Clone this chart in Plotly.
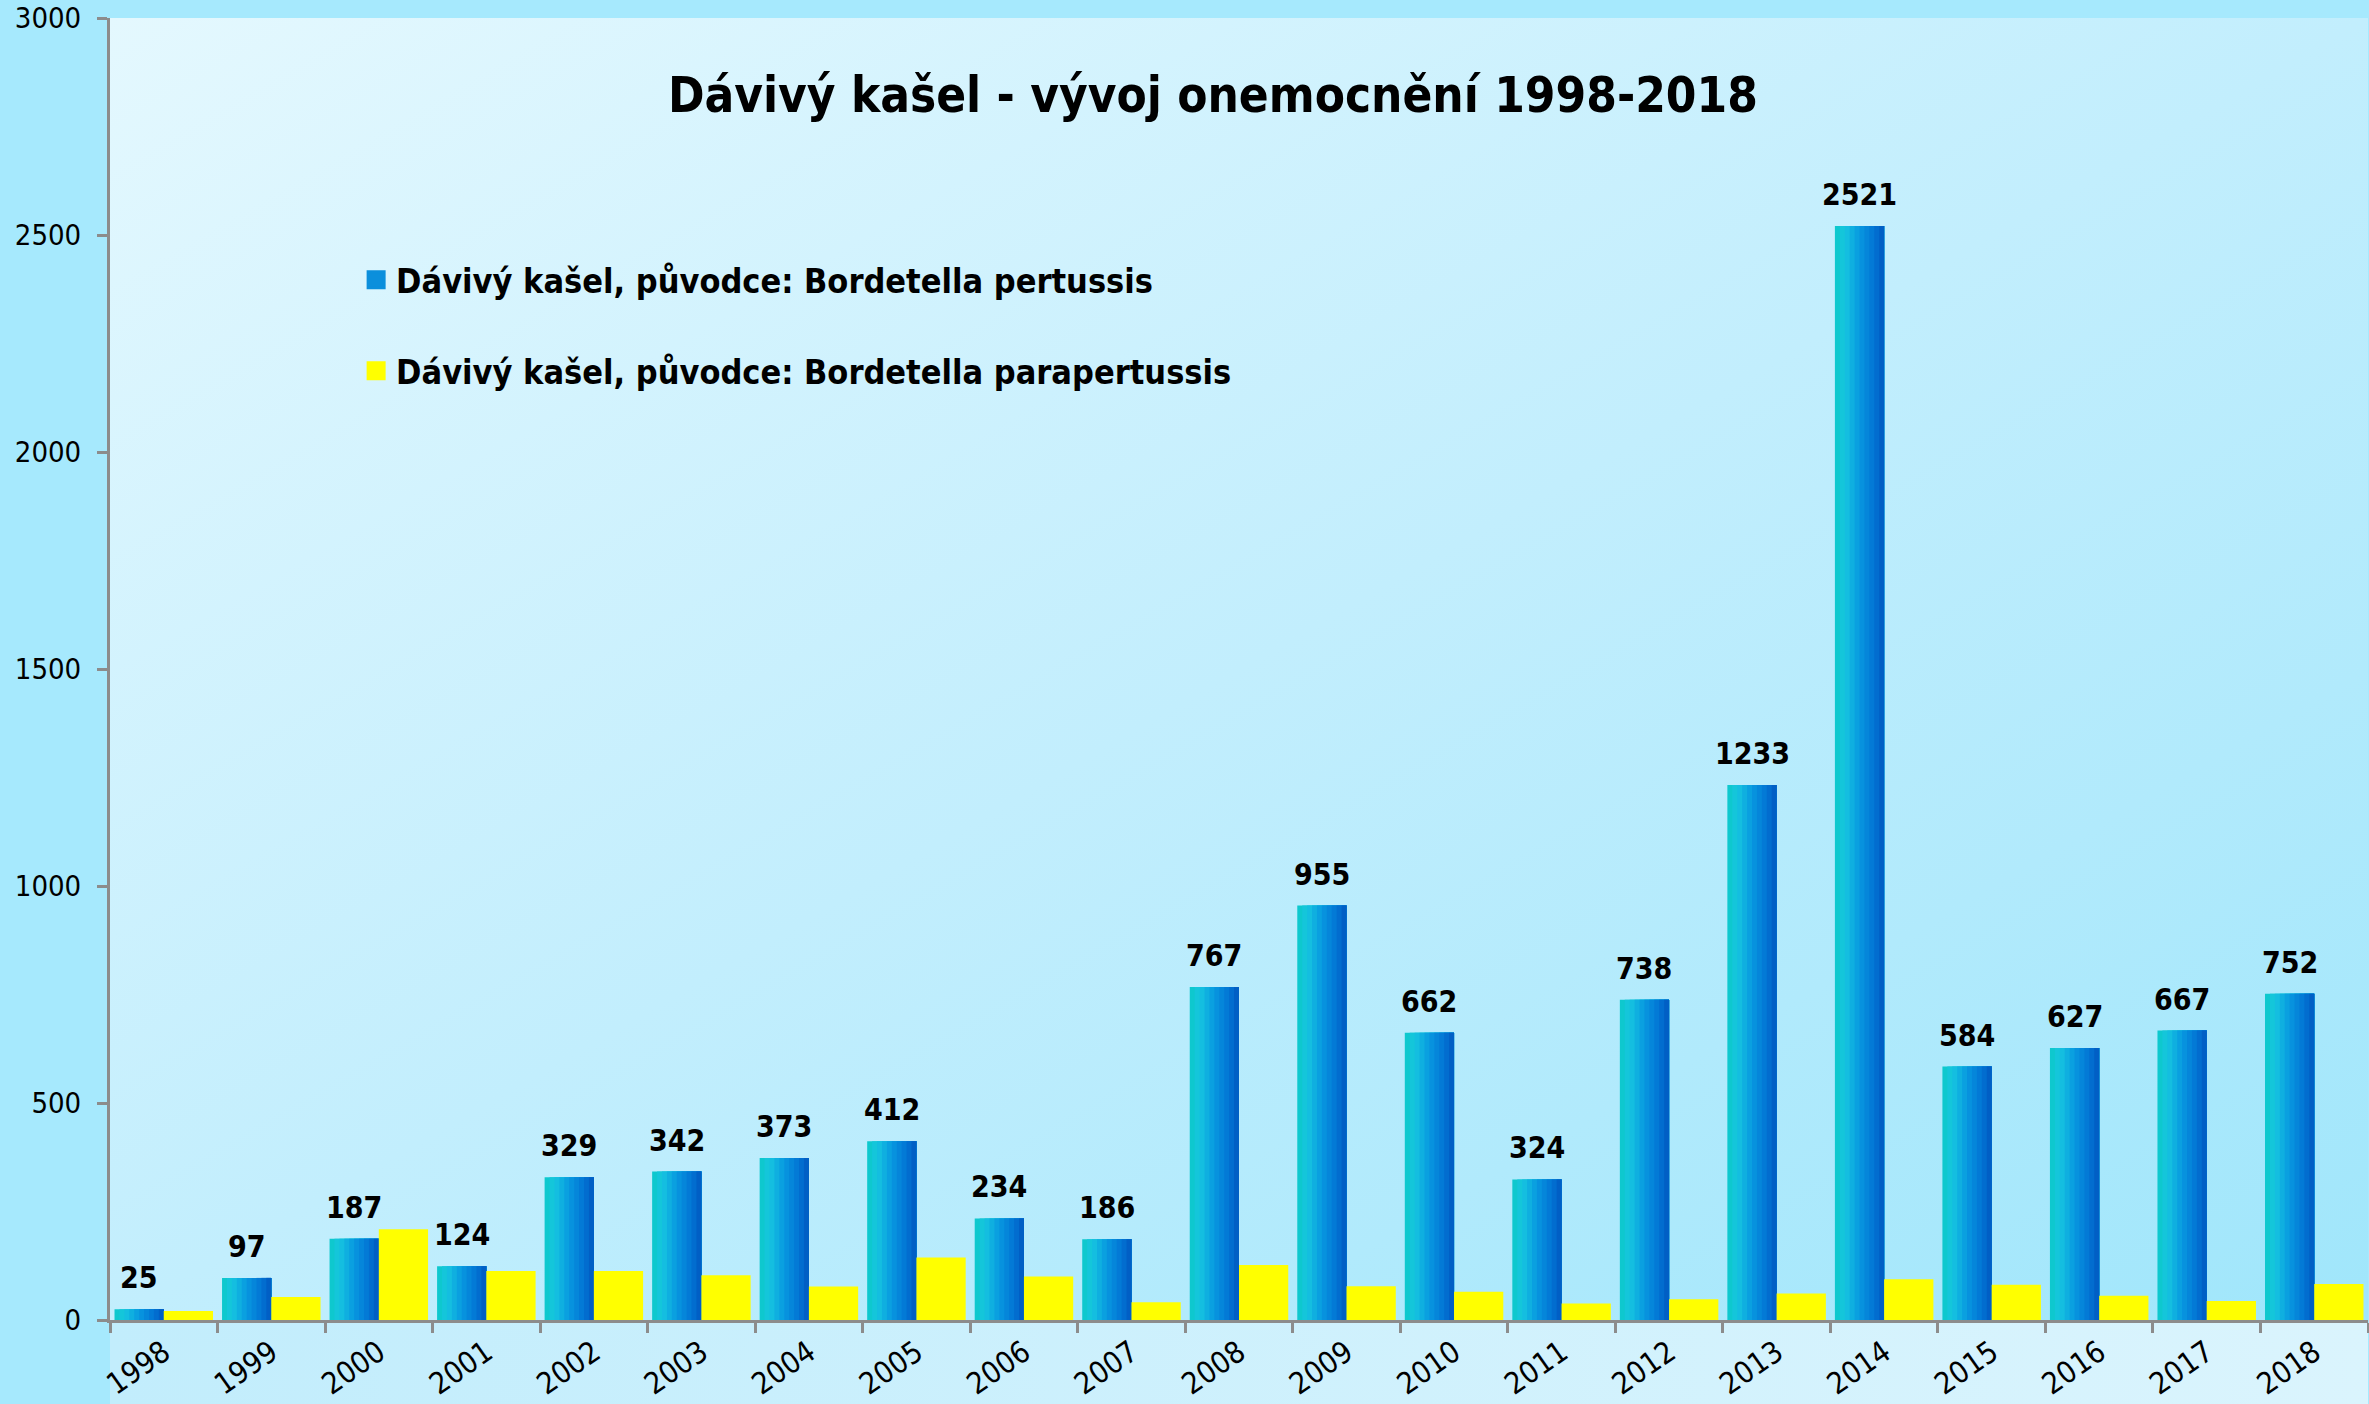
import base64
import plotly.graph_objects as go

# ---------------- data ----------------
years = ["1998", "1999", "2000", "2001", "2002", "2003", "2004", "2005", "2006", "2007",
         "2008", "2009", "2010", "2011", "2012", "2013", "2014", "2015", "2016", "2017", "2018"]
pertussis = [25, 97, 187, 124, 329, 342, 373, 412, 234, 186,
             767, 955, 662, 324, 738, 1233, 2521, 584, 627, 667, 752]
parapertussis = [21, 53, 209, 113, 113, 103, 77, 144, 100, 41,
                 127, 78, 65, 38, 48, 61, 94, 81, 56, 44, 83]
y_ticks = [0, 500, 1000, 1500, 2000, 2500, 3000]

title_text = "Dávivý kašel - vývoj onemocnění 1998-2018"
name_pert = "Dávivý kašel, původce: Bordetella pertussis"
name_para = "Dávivý kašel, původce: Bordetella parapertussis"

# ---------------- style ----------------
W, H = 2369, 1404
ML, MR, MT, MB = 110, 1, 18, 84
PW, PH = W - ML - MR, H - MT - MB
FONT = "DejaVu Sans Condensed, DejaVu Sans, sans-serif"
BAR_W = 0.458
N_STRIPES = 10
stops = [(0.00, (0x0c, 0xc8, 0xc8)), (0.20, (0x16, 0xc6, 0xe0)), (0.50, (0x08, 0x98, 0xe0)),
         (0.80, (0x02, 0x74, 0xd4)), (1.00, (0x00, 0x58, 0xc0))]


def grad_color(t):
    for (p0, c0), (p1, c1) in zip(stops[:-1], stops[1:]):
        if p0 <= t <= p1:
            f = (t - p0) / (p1 - p0)
            c = [round(a + (b - a) * f) for a, b in zip(c0, c1)]
            return "rgb(%d,%d,%d)" % tuple(c)
    return "rgb(%d,%d,%d)" % stops[-1][1]


def svg_uri(svg):
    return "data:image/svg+xml;base64," + base64.b64encode(svg.encode("utf-8")).decode("ascii")


plot_bg_svg = ('<svg xmlns="http://www.w3.org/2000/svg" width="200" height="200" viewBox="0 0 200 200" '
               'preserveAspectRatio="none"><defs><linearGradient id="g" x1="0" y1="0" x2="1" y2="1">'
               '<stop offset="0" stop-color="#e4f8fe"/><stop offset="0.5" stop-color="#c2eefd"/>'
               '<stop offset="1" stop-color="#a0e6fb"/></linearGradient></defs>'
               '<rect x="0" y="0" width="200" height="200" fill="url(#g)"/></svg>')
strip_svg = ('<svg xmlns="http://www.w3.org/2000/svg" width="200" height="200" viewBox="0 0 200 200" '
             'preserveAspectRatio="none"><defs><linearGradient id="g" x1="0" y1="0" x2="1" y2="0">'
             '<stop offset="0" stop-color="#c2edfc"/><stop offset="1" stop-color="#daf4fd"/>'
             '</linearGradient></defs><rect x="0" y="0" width="200" height="200" fill="url(#g)"/></svg>')

fig = go.Figure()

# pertussis bars: drawn as overlapping stripes to imitate the horizontal gradient
for k in range(N_STRIPES):
    off = -BAR_W + k * BAR_W / N_STRIPES
    fig.add_trace(go.Bar(
        x=years, y=pertussis, offset=off, width=BAR_W - k * BAR_W / N_STRIPES,
        marker=dict(color=grad_color((k + 0.5) / N_STRIPES), line=dict(width=0)),
        showlegend=False, hoverinfo="skip", name=name_pert,
    ))

fig.add_trace(go.Bar(
    x=years, y=parapertussis, offset=0, width=BAR_W,
    marker=dict(color="#ffff00", line=dict(width=0)),
    showlegend=False, name=name_para,
))

# legend entries
fig.add_trace(go.Scatter(x=[None], y=[None], mode="markers", name=name_pert, legendgroup="a",
                         marker=dict(symbol="square", size=16, color="#0b8fdc",
                                     line=dict(width=3, color="#0b8fdc"))))
fig.add_trace(go.Scatter(x=[None], y=[None], mode="markers", name=name_para, legendgroup="b",
                         marker=dict(symbol="square", size=16, color="#ffff00",
                                     line=dict(width=3, color="#ffff00"))))

annotations = []
for i, v in enumerate(pertussis):
    annotations.append(dict(
        x=i - BAR_W / 2, y=v, xref="x", yref="y", text=str(v), showarrow=False,
        yanchor="bottom", xanchor="center", yshift=12,
        font=dict(family=FONT, size=30, color="#000000", weight="bold"),
    ))

fig.update_layout(
    width=W, height=H,
    margin=dict(l=ML, r=MR, t=MT, b=MB, autoexpand=False),
    paper_bgcolor="#a6e9fd",
    plot_bgcolor="rgba(0,0,0,0)",
    barmode="overlay",
    title=dict(text=title_text, x=0.512, xanchor="center", y=1 - 95 / H, yanchor="middle",
               xref="container", yref="container",
               font=dict(family=FONT, size=49, color="#000000", weight="bold")),
    legend=dict(x=0.109, y=0.821, xanchor="left", yanchor="top", bgcolor="rgba(0,0,0,0)",
                font=dict(family=FONT, size=34, color="#000000", weight="bold"),
                tracegroupgap=44, itemclick=False, itemdoubleclick=False),
    font=dict(family=FONT, color="#000000"),
    annotations=annotations,
    images=[
        dict(source=svg_uri(plot_bg_svg), xref="paper", yref="paper", x=0, y=1, sizex=1, sizey=1,
             xanchor="left", yanchor="top", sizing="stretch", layer="below"),
        dict(source=svg_uri(strip_svg), xref="paper", yref="paper", x=0, y=0, sizex=1,
             sizey=MB / PH, xanchor="left", yanchor="top", sizing="stretch", layer="below"),
    ],
    showlegend=True,
)

fig.update_xaxes(
    type="category", categoryorder="array", categoryarray=years,
    tickmode="array", tickvals=years, ticktext=years,
    tickson="boundaries", ticks="outside", ticklen=10, tickwidth=3, tickcolor="#8c8c8c",
    showline=True, linecolor="#8c8c8c", linewidth=3, showgrid=False, zeroline=False,
    tickangle=-35, tickfont=dict(family=FONT, size=30, color="#000000"),
    automargin=False, range=[-0.5, len(years) - 0.5],
)
fig.update_yaxes(
    range=[0, 3000], tickmode="array", tickvals=y_ticks, ticktext=[str(t) for t in y_ticks],
    ticks="outside", ticklen=10, tickwidth=3, tickcolor="#8c8c8c",
    showline=True, linecolor="#8c8c8c", linewidth=3, showgrid=False, zeroline=False,
    tickfont=dict(family=FONT, size=29, color="#000000"), ticklabelstandoff=10,
    automargin=False,
)

fig.write_html(
    "out.html",
    config={"displayModeBar": False},
    post_script="document.body.style.margin='0';document.body.style.padding='0';"
                "document.body.style.overflow='hidden';",
)
